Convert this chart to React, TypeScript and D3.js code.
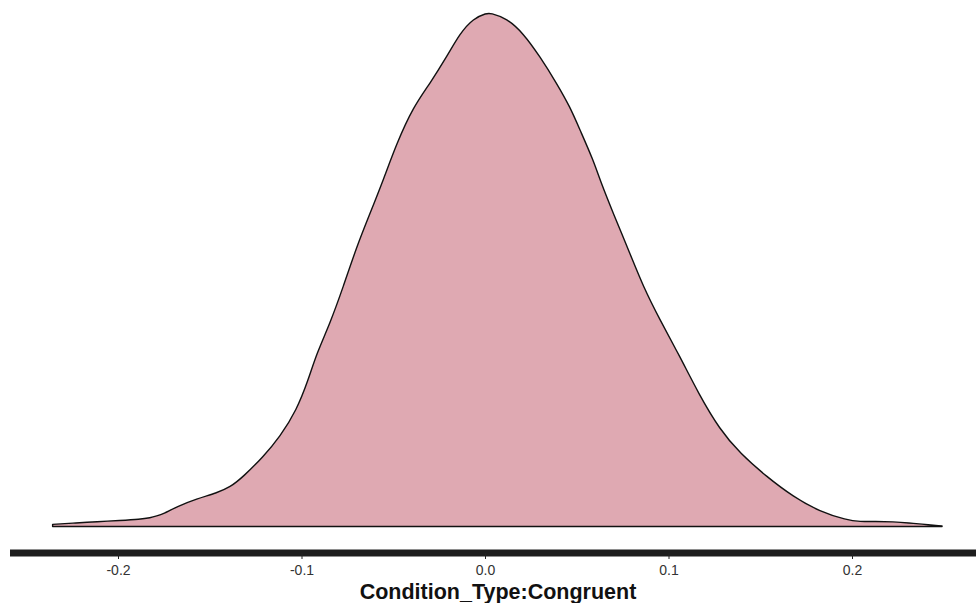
import React from "react";
import * as d3 from "d3";

// Kernel density estimate of the Condition_Type:Congruent effect
const xs: number[] = [
  -0.2359, -0.223, -0.2119, -0.1992, -0.1883, -0.1826, -0.1792, -0.1756, -0.1683, -0.1574,
  -0.1465, -0.1392, -0.132, -0.1211, -0.112, -0.1029, -0.0966, -0.092, -0.0847, -0.0775,
  -0.0702, -0.0629, -0.0557, -0.0484, -0.0393, -0.0302, -0.0211, -0.0139, -0.0066, 0.0007,
  0.0025, 0.0116, 0.0206, 0.0297, 0.0388, 0.046, 0.0515, 0.0587, 0.0624, 0.0696,
  0.0787, 0.086, 0.0951, 0.106, 0.116, 0.1278, 0.1387, 0.1532, 0.1677, 0.1823,
  0.1968, 0.2041, 0.2123, 0.2222, 0.2313, 0.2368, 0.2488,
];
const density: number[] = [
  0.029, 0.047, 0.064, 0.08, 0.096, 0.117, 0.14, 0.167, 0.264, 0.369,
  0.447, 0.523, 0.664, 0.931, 1.197, 1.553, 1.953, 2.309, 2.709, 3.197,
  3.731, 4.176, 4.62, 5.109, 5.597, 5.909, 6.264, 6.576, 6.776, 6.843,
  6.847, 6.776, 6.576, 6.264, 5.909, 5.597, 5.287, 4.887, 4.62, 4.176,
  3.643, 3.197, 2.753, 2.264, 1.776, 1.287, 0.976, 0.664, 0.397, 0.197,
  0.087, 0.064, 0.067, 0.064, 0.047, 0.033, 0.007,
];
const tickValues: number[] = [-0.2, -0.1, 0.0, 0.1, 0.2];
const tickLabels: string[] = ["-0.2", "-0.1", "0.0", "0.1", "0.2"];
const axisTitle = "Condition_Type:Congruent";

const W = 976;
const H = 603;

export default function App() {
  const x = d3.scaleLinear().domain([0, 0.1]).range([485.5, 669]);
  const y = d3.scaleLinear().domain([0, 6.833]).range([526.5, 14]);

  const pts: [number, number][] = xs.map((v, i) => [v, density[i]]);
  const curve = d3.curveBasis;

  const area = d3
    .area<[number, number]>()
    .x((d) => x(d[0]))
    .y0(y(0))
    .y1((d) => y(d[1]))
    .curve(curve);

  const outline = d3
    .line<[number, number]>()
    .x((d) => x(d[0]))
    .y((d) => y(d[1]))
    .curve(curve);

  const first = pts[0];
  const last = pts[pts.length - 1];
  const closedPath =
    (outline(pts) as string) +
    `L${x(last[0])},${y(0)}L${x(first[0])},${y(0)}Z`;

  const axisY = 553;

  return (
    <svg
      width={W}
      height={H}
      style={{ position: "absolute", left: 0, top: 0, background: "#fff" }}
      fontFamily="'Liberation Sans', Arial, sans-serif"
    >
      <path d={area(pts) as string} fill="#dfa9b2" stroke="none" />
      <path d={closedPath} fill="none" stroke="#111" strokeWidth={1.4} strokeLinejoin="round" />

      {/* x axis */}
      <line x1={10} x2={W} y1={axisY} y2={axisY} stroke="#1e1e1e" strokeWidth={7} />
      {tickValues.map((t, i) => (
        <g key={i}>
          <line x1={x(t)} x2={x(t)} y1={axisY} y2={axisY + 6} stroke="#222" strokeWidth={1} />
          <text x={x(t)} y={574.5} textAnchor="middle" fontSize={14} fill="#333">
            {tickLabels[i]}
          </text>
        </g>
      ))}
      <text
        x={498}
        y={599}
        textAnchor="middle"
        fontSize={21.5}
        fontWeight="bold"
        fill="#111"
      >
        {axisTitle}
      </text>
    </svg>
  );
}
